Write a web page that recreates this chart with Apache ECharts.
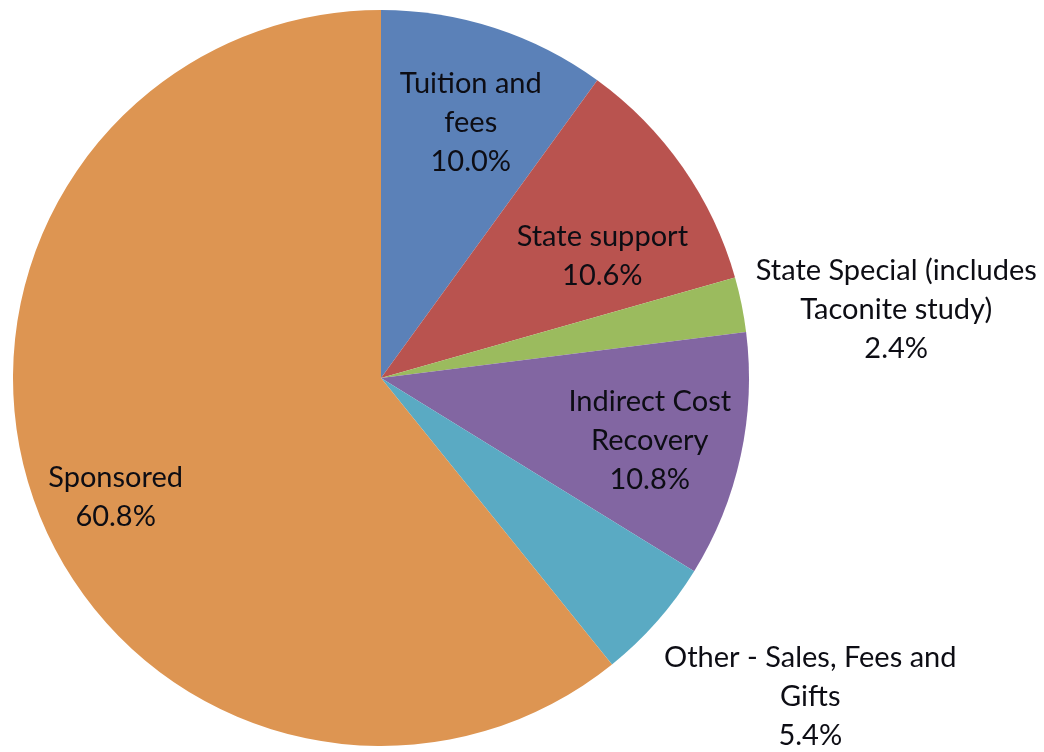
<!DOCTYPE html>
<html>
<head>
<meta charset="utf-8">
<script src="https://cdn.jsdelivr.net/npm/echarts@6/dist/echarts.min.js"></script>
<style>
  html, body { margin: 0; padding: 0; background: #fff; }
  #chart { width: 1044px; height: 752px; }
</style>
</head>
<body>
<div id="chart"></div>
<script>
// slices, clockwise from the top
const categories = [
    'Tuition and\nfees',
    'State support',
    'State Special (includes\nTaconite study)',
    'Indirect Cost\nRecovery',
    'Other - Sales, Fees and\nGifts',
    'Sponsored'
];
const shares = [10.0, 10.6, 2.4, 10.8, 5.4, 60.8];
const colors = ['#5b81b8', '#b9534f', '#9bbb5e', '#8266a2', '#5aaac3', '#dd9552'];
// label nudges away from the default inside spot
const labelOffsets = [[32, -78], [68, -15], [332, -31], [86, 23], [289, 195], [-89, 57]];

var chart = echarts.init(document.getElementById('chart'));

let pieData = categories.map((name, i) => ({
    name: name,
    value: shares[i],
    itemStyle: { color: colors[i] },
    label: { offset: labelOffsets[i] }
}));

chart.setOption({
    animation: false,
    series: [{
        type: 'pie',
        center: [381, 378],
        radius: [0, 368],
        startAngle: 90,
        clockwise: true,
        itemStyle: { borderWidth: 0 },
        label: {
            show: true,
            position: 'inside',
            fontFamily: 'Lato',
            fontSize: 29,
            lineHeight: 39,
            color: '#0d0d14',
            align: 'center',
            formatter: p => p.name + '\n' + p.value.toFixed(1) + '%'
        },
        labelLine: { show: false },
        emphasis: { disabled: true },
        data: pieData
    }]
});
</script>
</body>
</html>
